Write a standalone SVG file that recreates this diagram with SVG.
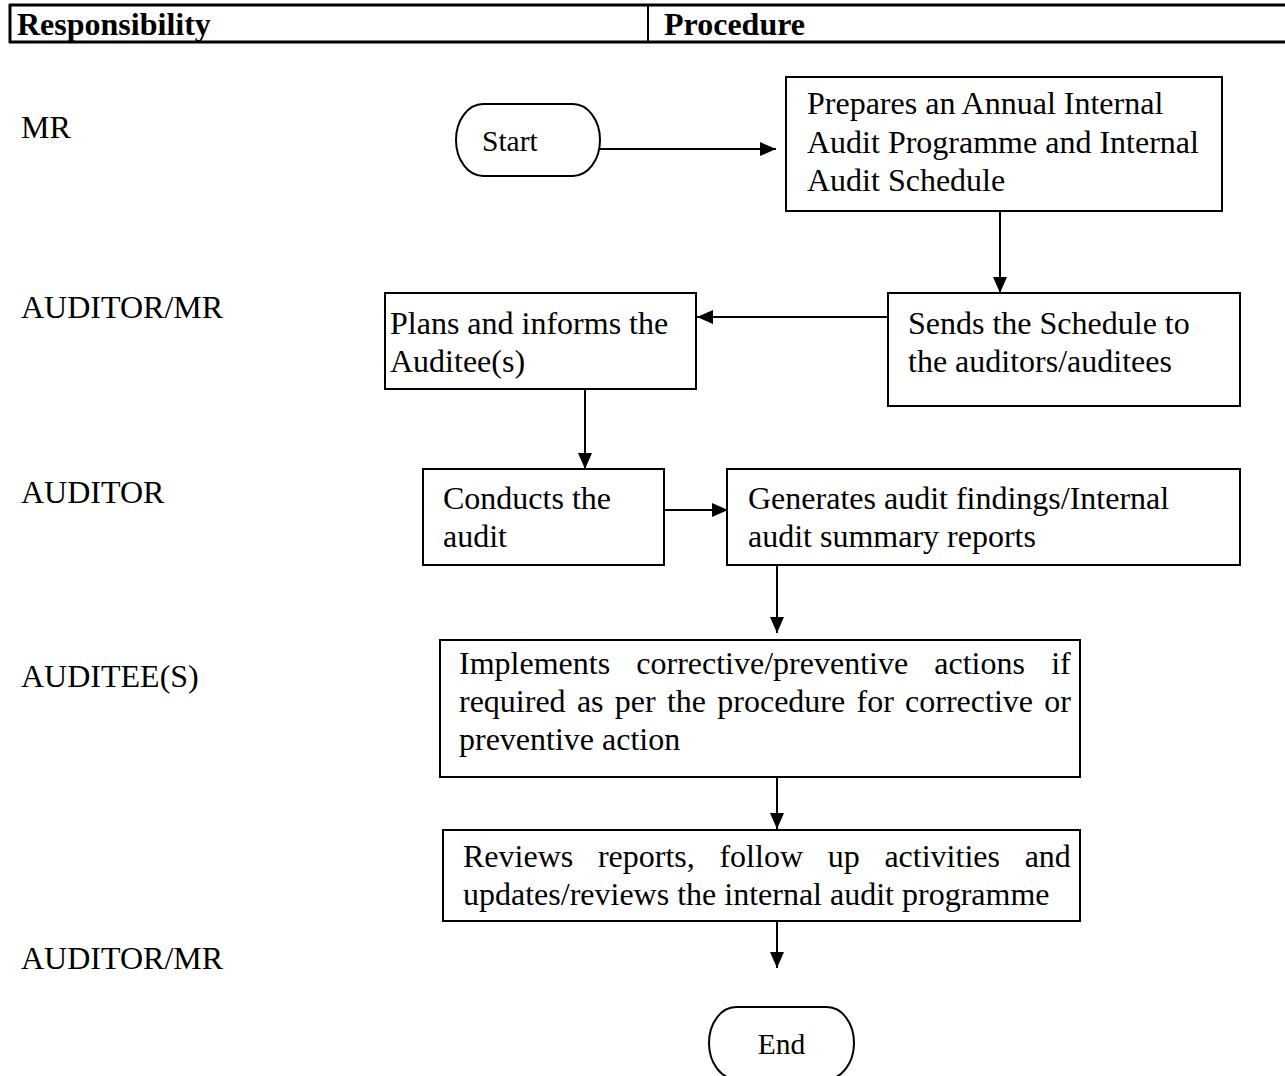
<svg xmlns="http://www.w3.org/2000/svg" width="1285" height="1076" viewBox="0 0 1285 1076">
<style>
text{font-family:"Liberation Serif","Times New Roman",serif;font-size:32px;fill:#000}
.hd{font-weight:bold}
.term{font-size:29.5px}
.box{fill:#fff;stroke:#000;stroke-width:2}
.hl{stroke:#000;stroke-width:3;fill:none}
.vl{stroke:#000;stroke-width:2;fill:none}
.edge{stroke:#000;stroke-width:2;fill:none;marker-end:url(#ah)}
</style>
<defs>
<marker id="ah" markerUnits="userSpaceOnUse" markerWidth="16" markerHeight="14" refX="16" refY="7" orient="auto">
<path d="M0,0 L16,7 L0,14 Z" fill="#000"/>
</marker>
</defs>
<rect width="1285" height="1076" fill="#fff"/>
<g id="header">
<line class="hl" x1="9" y1="5" x2="1285" y2="5"/>
<line class="hl" x1="9" y1="42" x2="1285" y2="42"/>
<line class="hl" x1="10" y1="4" x2="10" y2="43"/>
<line class="vl" x1="648" y1="5" x2="648" y2="42"/>
<text class="hd" x="17" y="35">Responsibility</text>
<text class="hd" x="664" y="35">Procedure</text>
</g>
<g id="roles">
<text x="21" y="138">MR</text>
<text x="21" y="318">AUDITOR/MR</text>
<text x="21" y="503">AUDITOR</text>
<text x="21" y="687">AUDITEE(S)</text>
<text x="21" y="969">AUDITOR/MR</text>
</g>
<g id="connectors">
<path class="edge" d="M600,149 H776"/>
<path class="edge" d="M1000,211 V293"/>
<path class="edge" d="M888,317 H697"/>
<path class="edge" d="M585,389 V469"/>
<path class="edge" d="M658,510 H728"/>
<path class="edge" d="M777,565 V633"/>
<path class="edge" d="M777,777 V829"/>
<path class="edge" d="M777,921 V968"/>
</g>
<g id="start">
<rect class="box" x="456" y="104" width="144" height="72" rx="27" ry="36"/>
<text class="term" x="482" y="151">Start</text>
</g>
<g id="prepare">
<rect class="box" x="786" y="77" width="436" height="134"/>
<text x="807" y="114">Prepares an Annual Internal</text>
<text x="807" y="153">Audit Programme and Internal</text>
<text x="807" y="191">Audit Schedule</text>
</g>
<g id="sends">
<rect class="box" x="888" y="293" width="352" height="113"/>
<text x="908" y="334">Sends the Schedule to</text>
<text x="908" y="372">the auditors/auditees</text>
</g>
<g id="plans">
<rect class="box" x="385" y="293" width="311" height="96"/>
<text x="390" y="334">Plans and informs the</text>
<text x="390" y="372">Auditee(s)</text>
</g>
<g id="conducts">
<rect class="box" x="423" y="469" width="241" height="96"/>
<text x="443" y="509">Conducts the</text>
<text x="443" y="547">audit</text>
</g>
<g id="generates">
<rect class="box" x="727" y="469" width="513" height="96"/>
<text x="748" y="509">Generates audit findings/Internal</text>
<text x="748" y="547">audit summary reports</text>
</g>
<g id="implements">
<rect class="box" x="440" y="640" width="640" height="137"/>
<text x="459" y="674" word-spacing="18.2">Implements corrective/preventive actions if</text>
<text x="459" y="712" word-spacing="3.27">required as per the procedure for corrective or</text>
<text x="459" y="750">preventive action</text>
</g>
<g id="reviews">
<rect class="box" x="443" y="830" width="637" height="91"/>
<text x="463" y="867" word-spacing="16.7">Reviews reports, follow up activities and</text>
<text x="463" y="905">updates/reviews the internal audit programme</text>
</g>
<g id="end">
<rect class="box" x="709" y="1007" width="145" height="72" rx="27" ry="36"/>
<text class="term" x="781.5" y="1054" text-anchor="middle">End</text>
</g>
</svg>
